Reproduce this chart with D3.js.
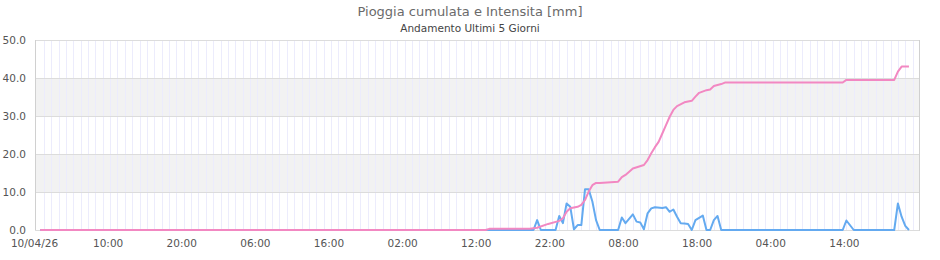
<!DOCTYPE html>
<html><head><meta charset="utf-8">
<script src="https://cdn.jsdelivr.net/npm/d3@7/dist/d3.min.js"></script>
<style>body{margin:0;background:#fff}svg{display:block;font-family:"DejaVu Sans",sans-serif}</style>
</head><body><svg id="c" width="940" height="260"></svg>
<script>
const title = "Pioggia cumulata e Intensita [mm]";
const subtitle = "Andamento Ultimi 5 Giorni";
// hours since 10/04/26 00:00
const tickHours = [0,10,20,30,40,50,60,70,80,90,100,110];
const tickLabels = ["10/04/26","10:00","20:00","06:00","16:00","02:00","12:00","22:00","08:00","18:00","04:00","14:00"];
const yTicks = [0,10,20,30,40,50];
const cumHours = [0.5,61.0,61.5,67.0,68.0,69.5,71.0,71.5,72.0,72.5,73.5,74.0,74.5,75.0,75.5,76.0,76.5,79.0,79.5,80.0,81.0,82.5,83.0,83.5,84.0,84.5,85.0,85.5,86.0,86.5,87.0,88.0,89.0,89.5,90.0,91.0,91.5,92.0,93.0,93.5,109.5,110.0,116.5,117.0,117.5,118.5];
const cumValues = [0,0,0.3,0.3,0.6,1.6,2.4,3.1,4.8,5.7,6.1,6.6,7.9,10.1,11.8,12.4,12.4,12.7,13.9,14.5,16.2,17.1,18.4,20.2,21.8,23.2,25.4,27.6,29.8,31.6,32.6,33.6,34.0,35.1,36.1,36.8,37.0,37.9,38.4,38.8,38.8,39.5,39.5,41.7,43.0,43.0];
const intHours = [0.5,67.5,68.0,68.5,70.5,71.0,71.5,72.0,72.5,73.0,73.5,74.0,74.5,75.0,75.5,76.0,76.5,79.0,79.5,80.0,81.0,81.5,82.0,82.5,83.0,83.5,84.0,85.0,85.5,86.0,86.5,87.0,87.5,88.0,88.5,89.0,89.5,90.5,91.0,91.5,92.0,92.5,93.0,109.5,110.0,111.0,116.5,117.0,117.5,118.0,118.5];
const intValues = [0,0,2.6,0,0,3.7,1.8,7.0,6.1,0.2,1.3,1.3,10.7,10.7,7.5,2.6,0,0,3.3,1.8,4.1,2.2,2.0,0.2,4.4,5.7,6.0,5.8,6.0,4.8,5.4,3.5,1.8,1.7,1.6,0,2.6,3.8,0,0,2.6,3.7,0,0,2.5,0,0,7.0,3.5,1.1,0];

const svg = d3.select("#c");
const L = 35.5, R = 920, T = 40, B = 230;
const x = d3.scaleLinear().domain([0,120]).range([36.5, 920]);
const y = d3.scaleLinear().domain([0,50]).range([B, T]);

svg.append("text").attr("x",470).attr("y",16).attr("text-anchor","middle")
  .attr("font-size",13).attr("fill","#6a6a6a").text(title);
svg.append("text").attr("x",470).attr("y",32).attr("text-anchor","middle")
  .attr("font-size",10.5).attr("fill","#444").text(subtitle);

// alternate bands
[[10,20],[30,40]].forEach(b=>{
  svg.append("rect").attr("x",L).attr("y",y(b[1])).attr("width",R-L).attr("height",y(b[0])-y(b[1])).attr("fill","#f2f2f2");
});
// vertical hour grid
const hrs = d3.range(1,120);
svg.append("g").selectAll("line").data(hrs).join("line")
  .attr("x1",d=>Math.round(x(d))+0.5).attr("x2",d=>Math.round(x(d))+0.5)
  .attr("y1",T).attr("y2",B).attr("stroke","#ececfc").attr("stroke-width",1);
// horizontal grid
svg.append("g").selectAll("line").data(yTicks).join("line")
  .attr("x1",L).attr("x2",R).attr("y1",d=>Math.round(y(d))+0.5).attr("y2",d=>Math.round(y(d))+0.5)
  .attr("stroke","#dcdcdc");
svg.append("line").attr("x1",L).attr("x2",L).attr("y1",T).attr("y2",B+0.5).attr("stroke","#d0d0d0");
svg.append("line").attr("x1",R-0.5).attr("x2",R-0.5).attr("y1",T).attr("y2",B+0.5).attr("stroke","#d0d0d0");

// y labels
svg.append("g").selectAll("text").data(yTicks).join("text")
  .attr("x",26).attr("y",d=>y(d)+4).attr("text-anchor","end")
  .attr("font-size",10.5).attr("fill","#555").text(d=>d.toFixed(1));
// x labels
svg.append("g").selectAll("text").data(tickHours).join("text")
  .attr("x",(d,i)=>x(d)-2).attr("y",247).attr("text-anchor","middle")
  .attr("font-size",10.5).attr("fill","#555").text((d,i)=>tickLabels[i]);

const line = d3.line().x(d=>x(d[0])).y(d=>y(d[1]));
const cum = cumHours.map((h,i)=>[h,cumValues[i]]);
const inten = intHours.map((h,i)=>[h,intValues[i]]);
svg.append("path").datum(inten).attr("d",line).attr("fill","none")
  .attr("stroke","#64aaf0").attr("stroke-width",2).attr("stroke-linejoin","round");
svg.append("path").datum(cum).attr("d",line).attr("fill","none")
  .attr("stroke","#f288c2").attr("stroke-width",2).attr("stroke-linejoin","round");
</script></body></html>
